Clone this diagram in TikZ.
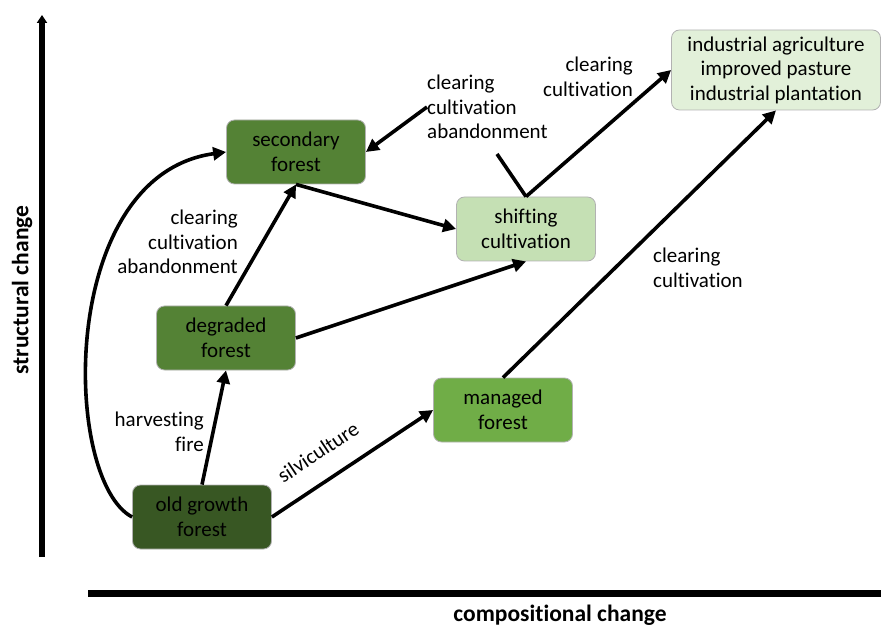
\documentclass[tikz,border=0pt]{standalone}
\usepackage{fontspec}
\setmainfont[Ligatures=NoCommon]{Carlito}
\usetikzlibrary{arrows.meta}
\definecolor{oldgreen}{HTML}{385723}
\definecolor{midgreen}{HTML}{548235}
\definecolor{accgreen}{HTML}{70AD47}
\definecolor{palegreen}{HTML}{C5E0B4}
\definecolor{mistgreen}{HTML}{E2F0D9}
\begin{document}
\begin{tikzpicture}[x=1pt, y=-1pt, font=\fontsize{21}{24.5}\selectfont,
      box/.style={draw=black!30, line width=0.8pt, rounded corners=8pt, align=center, minimum width=139pt, minimum height=64pt},
      arr/.style={line width=3.6pt, -{Triangle[length=13pt,width=13pt]}},
      lbl/.style={align=left, inner sep=0pt},
      axlbl/.style={font=\fontsize{23.5}{27}\selectfont\bfseries, inner sep=0pt}]
    \useasboundingbox (0,0) rectangle (881,628);
    % axes
    \draw[line width=6pt, -{Triangle[length=8pt,width=10pt]}] (42,557) -- (42,15);
    \draw[line width=7pt] (88,593) -- (881,593);
    \node[axlbl, rotate=90] (ylab) at (22,290) {structural change};
    \node[axlbl] (xlab) at (560,615) {compositional change};
    % states
    \node[box, fill=oldgreen]  (old)   at (202,517) {old growth\\forest};
    \node[box, fill=midgreen]  (deg)   at (226,338) {degraded\\forest};
    \node[box, fill=midgreen]  (sec)   at (296,152) {secondary\\forest};
    \node[box, fill=palegreen] (shift) at (526,229) {shifting\\cultivation};
    \node[box, fill=accgreen]  (man)   at (503,410) {managed\\forest};
    \node[box, fill=mistgreen, minimum width=209pt, minimum height=80pt] (ind) at (776,70)
      {industrial agriculture\\improved pasture\\industrial plantation};
    % labels
    \node[lbl, align=right] (harv) at (204,432) [anchor=east] {harvesting\\fire};
    \node[lbl, align=right] (cca) at (238,242) [anchor=east] {clearing\\cultivation\\abandonment};
    \node[lbl] (ccb) at (427,107) [anchor=west] {clearing\\cultivation\\abandonment};
    \node[lbl, align=right] (ccc) at (633,77) [anchor=east] {clearing\\cultivation};
    \node[lbl] (ccd) at (653,268) [anchor=west] {clearing\\cultivation};
    \node[rotate=33.6, inner sep=0pt] (silv) at (318,452) {silviculture};
    \coordinate (ccbfoot) at (497,154);
    % transitions
    \draw[arr] (old.north) -- (deg.south);
    \draw[arr] (deg.north) -- (sec.south);
    \draw[arr] (sec.south) -- (shift.west);
    \draw[arr] (deg.east) -- (shift.south);
    \draw[arr] (old.east) -- (man.west);
    \draw[arr] (man.north) -- (ind.south);
    \draw[arr] (shift.north) -- (ind.west);
    \draw[arr] (ccb.west) -- (sec.east);
    \draw[line width=3.6pt] (ccbfoot) -- (shift.north);
    \draw[arr] (old.west) .. controls (62,480) and (57,175) .. (sec.west);
  \end{tikzpicture}
\end{document}
